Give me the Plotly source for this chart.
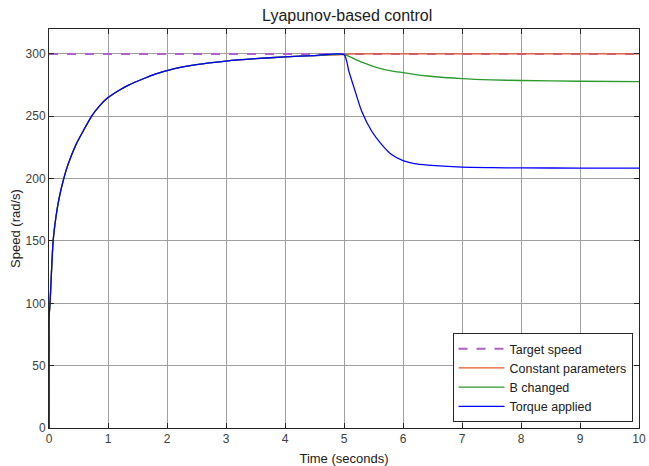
import plotly.graph_objects as go

# Time grid (seconds)
time_rise = [0, 0.001, 0.005, 0.017, 0.07, 0.12, 0.17, 0.25, 0.32, 0.46, 0.58, 0.72, 0.85,
             1.0, 1.17, 1.34, 1.62, 1.8, 2.13, 2.5, 3.0, 3.5, 4.0, 4.5, 5.0]
speed_rise = [0, 85, 92, 100, 150, 170, 184, 200, 211, 227.6, 238.2, 250, 258,
              265, 270.3, 274.8, 280.5, 283.8, 288.3, 291.5, 294.3, 296.2, 297.6, 298.7, 299.5]

time_after = [5.083, 5.19, 5.3, 5.47, 5.64, 5.8, 6.0, 6.19, 6.42, 7.0, 7.5, 8.0, 9.0, 10.0]
speed_const = [299.8, 300, 300, 300, 300, 300, 300, 300, 300, 300, 300, 300, 300, 300]
speed_bchanged = [298.1, 295.7, 293.4, 290.5, 288.1, 286.5, 285, 283.6, 282.3, 280.2, 279.2, 278.7, 278.1, 277.8]
speed_torque = [286, 270, 254, 238, 227.3, 219.5, 214.4, 212, 210.8, 209.2, 208.8, 208.6, 208.5, 208.5]

target_time = [0, 10]
target_speed = [300, 300]

x_ticks = list(range(0, 11))
y_ticks = list(range(0, 301, 50))

t_full = time_rise + time_after

fig = go.Figure()
fig.add_trace(go.Scatter(x=target_time, y=target_speed, mode="lines", name="Target speed",
                         line=dict(color="#b060c8", width=2, dash="dash")))
fig.add_trace(go.Scatter(x=t_full, y=speed_rise + speed_const, mode="lines", name="Constant parameters",
                         line=dict(color="#e5582c", width=1.3, shape="spline", smoothing=0.6)))
fig.add_trace(go.Scatter(x=t_full, y=speed_rise + speed_bchanged, mode="lines", name="B changed",
                         line=dict(color="#2a9a2a", width=1.3, shape="spline", smoothing=0.6)))
fig.add_trace(go.Scatter(x=t_full, y=speed_rise + speed_torque, mode="lines", name="Torque applied",
                         line=dict(color="#0000ff", width=1.3, shape="spline", smoothing=0.6)))

axis_common = dict(showline=True, linecolor="#262626", linewidth=1, mirror="ticks",
                   ticks="inside", ticklen=5, tickcolor="#262626", automargin=False,
                   showgrid=True, gridcolor="#a0a0a0", gridwidth=1, zeroline=False,
                   tickfont=dict(size=12, color="#404040"))

fig.update_layout(
    width=649, height=466,
    paper_bgcolor="white", plot_bgcolor="white",
    margin=dict(l=49, r=10, t=29, b=38, autoexpand=False),
    font=dict(family="Liberation Sans, Arial, sans-serif", color="#202020"),
    title=dict(text="Lyapunov-based control", x=0.535, xanchor="center", y=0.966, yanchor="middle",
               font=dict(size=16, color="#202020")),
    xaxis=dict(range=[0, 10], tickvals=x_ticks,
               title=dict(text="Time (seconds)", font=dict(size=13), standoff=8), **axis_common),
    yaxis=dict(range=[0, 320], tickvals=y_ticks,
               title=dict(text="Speed (rad/s)", font=dict(size=13), standoff=2), **axis_common),
    legend=dict(x=0.989, y=0.015, xanchor="right", yanchor="bottom",
                bgcolor="white", bordercolor="#262626", borderwidth=1, itemwidth=46,
                font=dict(size=12.5, color="#202020"), tracegroupgap=0),
    showlegend=True,
)

fig.write_html("out.html", config={"displayModeBar": False},
               post_script="document.body.style.margin='0px';document.body.style.overflow='hidden';")
